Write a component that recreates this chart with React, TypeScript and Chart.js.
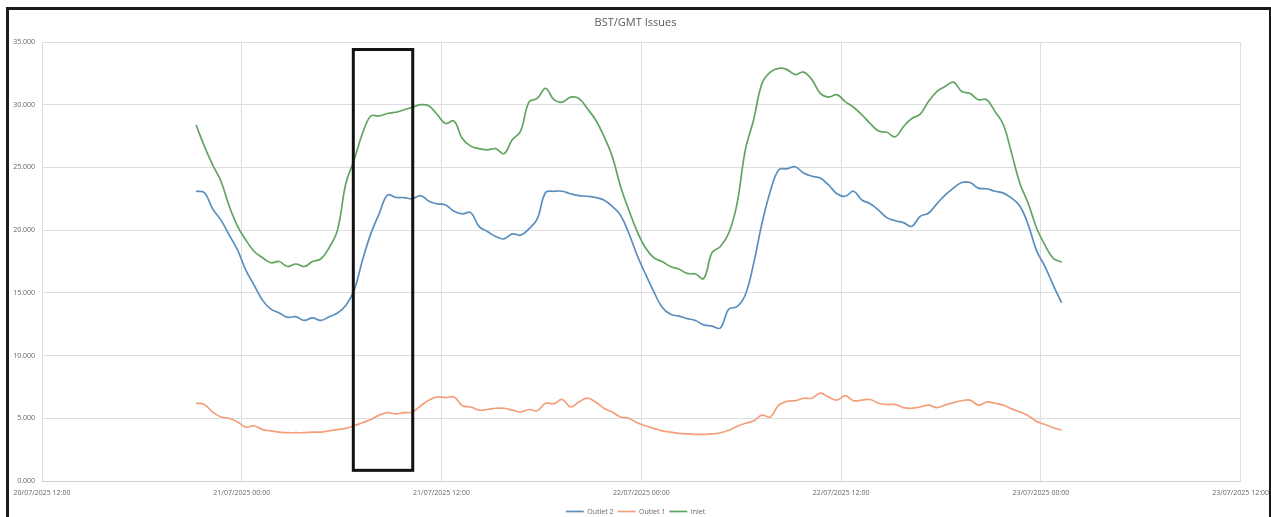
import React, { useEffect, useRef } from "react";
import { Chart, registerables } from "chart.js";

Chart.register(...registerables);

// Axis origin: 20/07/2025 12:00. X values are hours after this origin.
const AXIS_ORIGIN_UTC = Date.UTC(2025, 6, 20, 12, 0);
const X_MIN = 0;
const X_MAX = 72;
const X_STEP = 12;
const Y_MIN = 0;
const Y_MAX = 35;
const Y_STEP = 5;

// Readings every 30 minutes, starting 20/07/2025 21:15
const SERIES_START_HOURS = 9.25;
const SERIES_STEP_HOURS = 0.5;

const TITLE = "BST/GMT Issues";
const SERIES_NAMES = ["Outlet 2", "Outlet 1", "Inlet"];
const SERIES_COLORS = ["#5a8fbd", "#f3a07a", "#62a462"];

const outlet2 = [
  23.1, 23.0, 21.7, 20.8, 19.6, 18.4, 16.8, 15.6, 14.4, 13.7,
  13.4, 13.05, 13.1, 12.8, 13.0, 12.8, 13.1, 13.4, 14.0, 15.2,
  17.6, 19.7, 21.3, 22.8, 22.6, 22.6, 22.5, 22.75, 22.3, 22.1,
  22.0, 21.5, 21.3, 21.4, 20.3, 19.9, 19.5, 19.3, 19.7, 19.6,
  20.1, 20.9, 23.0, 23.1, 23.1, 22.9, 22.75, 22.7, 22.6, 22.4,
  21.9, 21.2, 19.75, 18.0, 16.5, 15.1, 13.85, 13.3, 13.15, 12.95,
  12.8, 12.45, 12.35, 12.2, 13.7, 13.9, 14.85, 17.35, 20.55, 23.1,
  24.8, 24.9, 25.05, 24.55, 24.3, 24.15, 23.6, 22.9, 22.7, 23.1,
  22.4, 22.1, 21.6, 21.0, 20.75, 20.6, 20.3, 21.1, 21.35, 22.1,
  22.8, 23.35, 23.8, 23.8, 23.35, 23.3, 23.1, 22.95, 22.55, 21.9,
  20.4, 18.35, 17.1, 15.6, 14.2,
];

const outlet1 = [
  6.2, 6.1, 5.5, 5.1, 5.0, 4.7, 4.3, 4.4, 4.1, 4.0,
  3.9, 3.85, 3.85, 3.85, 3.9, 3.9, 4.0, 4.1, 4.2, 4.4,
  4.65, 4.9, 5.25, 5.45, 5.35, 5.45, 5.5, 6.0, 6.45, 6.7,
  6.65, 6.7, 6.0, 5.9, 5.65, 5.7, 5.8, 5.8, 5.65, 5.5,
  5.7, 5.6, 6.2, 6.15, 6.5, 5.9, 6.3, 6.6, 6.3, 5.8,
  5.5, 5.1, 5.0, 4.65, 4.4, 4.2, 4.0, 3.9, 3.8, 3.75,
  3.72, 3.72, 3.75, 3.85, 4.05, 4.35, 4.6, 4.8, 5.25, 5.1,
  6.05, 6.35, 6.4, 6.6, 6.6, 7.0, 6.7, 6.45, 6.8, 6.4,
  6.45, 6.5, 6.2, 6.1, 6.1, 5.85, 5.8, 5.9, 6.05, 5.85,
  6.05, 6.25, 6.4, 6.45, 6.05, 6.3, 6.2, 6.05, 5.75, 5.5,
  5.2, 4.75, 4.5, 4.25, 4.05,
];

const inlet = [
  28.4, 26.7, 25.2, 23.9, 21.9, 20.3, 19.2, 18.3, 17.8, 17.4,
  17.5, 17.1, 17.3, 17.1, 17.5, 17.7, 18.6, 20.0, 23.7, 25.6,
  27.7, 29.1, 29.1, 29.3, 29.4, 29.6, 29.8, 30.0, 29.9, 29.2,
  28.5, 28.7, 27.3, 26.7, 26.5, 26.4, 26.5, 26.1, 27.2, 27.9,
  30.2, 30.5, 31.3, 30.4, 30.2, 30.6, 30.5, 29.7, 28.8, 27.5,
  25.9, 23.5, 21.6, 19.9, 18.6, 17.8, 17.5, 17.1, 16.9, 16.55,
  16.5, 16.15, 18.2, 18.7, 19.75, 22.1, 26.4, 28.8, 31.7, 32.6,
  32.9, 32.8, 32.4, 32.6, 32.0, 30.9, 30.6, 30.8, 30.25, 29.8,
  29.2, 28.5, 27.9, 27.8, 27.45, 28.25, 28.9, 29.25, 30.25, 31.05,
  31.45, 31.8, 31.05, 30.9, 30.4, 30.4, 29.45, 28.4, 26.1, 23.7,
  22.1, 20.15, 18.8, 17.75, 17.45,
];

// Highlight box in data units (hours after origin, value)
const HIGHLIGHT_X = [18.7, 22.27];
const HIGHLIGHT_Y = [0.85, 34.4];

const FONT_FAMILY = "'Open Sans', 'Liberation Sans', sans-serif";
const TEXT_COLOR = "#666666";
const GRID_COLOR = "#dedede";

function pad2(n: number) {
  return String(n).padStart(2, "0");
}

function formatHours(h: number) {
  const d = new Date(AXIS_ORIGIN_UTC + h * 3600000);
  return `${pad2(d.getUTCDate())}/${pad2(d.getUTCMonth() + 1)}/${d.getUTCFullYear()} ${pad2(
    d.getUTCHours()
  )}:${pad2(d.getUTCMinutes())}`;
}

function toPoints(values: number[]) {
  return values.map((v, i) => ({ x: SERIES_START_HOURS + i * SERIES_STEP_HOURS, y: v }));
}

const highlightPlugin = {
  id: "highlightBox",
  afterDatasetsDraw(chart: any) {
    const { ctx, scales } = chart;
    const x = scales.x;
    const y = scales.y;
    const l = x.getPixelForValue(HIGHLIGHT_X[0]);
    const r = x.getPixelForValue(HIGHLIGHT_X[1]);
    const t = y.getPixelForValue(HIGHLIGHT_Y[1]);
    const b = y.getPixelForValue(HIGHLIGHT_Y[0]);
    ctx.save();
    ctx.strokeStyle = "#111111";
    ctx.lineWidth = 3;
    ctx.strokeRect(l, t, r - l, b - t);
    ctx.restore();
  },
};

export default function App() {
  const canvasRef = useRef<HTMLCanvasElement | null>(null);

  useEffect(() => {
    const canvas = canvasRef.current;
    if (!canvas) return;
    const seriesValues = [outlet2, outlet1, inlet];
    const chart = new Chart(canvas, {
      type: "line",
      data: {
        datasets: seriesValues.map((vals, i) => ({
          label: SERIES_NAMES[i],
          data: toPoints(vals),
          borderColor: SERIES_COLORS[i],
          backgroundColor: SERIES_COLORS[i],
          borderWidth: 1.7,
          pointRadius: 0,
          tension: 0.4,
          fill: false,
        })),
      },
      options: {
        animation: false,
        responsive: false,
        maintainAspectRatio: false,
        parsing: false as any,
        layout: { padding: { left: 0, right: 0, top: 0, bottom: 0 } },
        plugins: {
          title: {
            display: true,
            text: TITLE,
            color: "#595959",
            font: { family: FONT_FAMILY, size: 11, weight: "normal" as any },
            padding: { top: 16.4, bottom: 12.4 },
          },
          legend: {
            display: true,
            position: "bottom",
            labels: {
              usePointStyle: true,
              pointStyle: "line",
              pointStyleWidth: 18,
              boxHeight: 7,
              padding: 4,
              color: TEXT_COLOR,
              font: { family: FONT_FAMILY, size: 7 },
            },
          },
          tooltip: { enabled: false },
        },
        scales: {
          x: {
            type: "linear",
            min: X_MIN,
            max: X_MAX,
            ticks: {
              stepSize: X_STEP,
              autoSkip: false,
              maxRotation: 0,
              padding: 2,
              color: TEXT_COLOR,
              font: { family: FONT_FAMILY, size: 7 },
              callback: (v: any) => formatHours(Number(v)),
            },
            grid: {
              color: GRID_COLOR,
              drawTicks: true,
              tickLength: 6,
              tickColor: "rgba(0,0,0,0)",
            },
            border: { display: true, color: "#d0d0d0" },
            afterFit: (scale: any) => {
              scale.height = 23;
            },
          },
          y: {
            type: "linear",
            min: Y_MIN,
            max: Y_MAX,
            ticks: {
              stepSize: Y_STEP,
              padding: 7,
              color: TEXT_COLOR,
              font: { family: FONT_FAMILY, size: 7 },
              callback: (v: any) => Number(v).toFixed(3),
            },
            grid: { color: GRID_COLOR, drawTicks: false },
            border: { display: false },
            afterFit: (scale: any) => {
              scale.width = 42;
            },
          },
        },
      },
      plugins: [highlightPlugin],
    });
    return () => chart.destroy();
  }, []);

  return (
    <div
      style={{
        position: "fixed",
        left: 0,
        top: 0,
        width: 1271,
        height: 517,
        overflow: "hidden",
        background: "#ffffff",
      }}
    >
      <canvas
        ref={canvasRef}
        width={1271}
        height={525}
        style={{ position: "absolute", left: 0, top: 0, display: "block" }}
      />
      <div
        style={{
          position: "absolute",
          left: 6,
          top: 7,
          width: 1260,
          height: 600,
          borderTop: "3px solid #1a1a1a",
          borderLeft: "3px solid #1a1a1a",
          borderRight: "2px solid #1a1a1a",
          boxSizing: "content-box",
          pointerEvents: "none",
        }}
      />
    </div>
  );
}
